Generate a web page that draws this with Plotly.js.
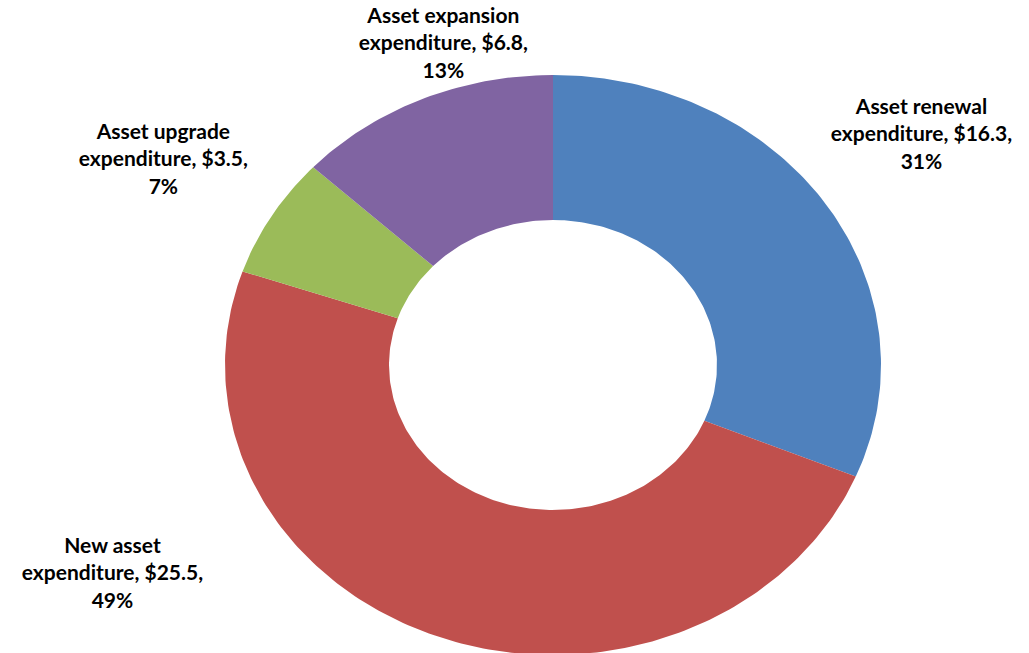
<!DOCTYPE html>
<html>
<head>
<meta charset="utf-8">
<script src="https://cdn.plot.ly/plotly-3.0.1.min.js"></script>
<style>
  html, body { margin: 0; padding: 0; background: #fff; }
  #chart { width: 1029px; height: 653px; }
</style>
</head>
<body>
<div id="chart"></div>
<script>
// Capital expenditure split ($bn), clockwise from 12 o'clock
const categories = ['Asset renewal expenditure', 'New asset expenditure', 'Asset upgrade expenditure', 'Asset expansion expenditure'];
const labelHeads = ['Asset renewal', 'New asset', 'Asset upgrade', 'Asset expansion'];
const values = [16.3, 25.5, 3.5, 6.8];
const colors = ['#4F81BD', '#C0504D', '#9BBB59', '#8064A2'];

// where each label sits on the page (pixels)
const labelPos = [[921, 133], [112, 572], [163, 158], [443, 42]];

const W = 1029, H = 653;
const cx = 553, cy = 365, rx = 328, ry = 290;
const hole = 0.5;

const total = values.reduce((a, b) => a + b, 0);

// ring slice as a closed polygon, clockwise from the top
function ringSlice(f0, f1) {
    const xs = [], ys = [];
    const n = Math.max(4, Math.ceil((f1 - f0) * 360));
    for (let k = 0; k <= n; k++) {
        const t = 2 * Math.PI * (f0 + (f1 - f0) * k / n);
        xs.push(Math.sin(t)); ys.push(Math.cos(t));
    }
    for (let k = n; k >= 0; k--) {
        const t = 2 * Math.PI * (f0 + (f1 - f0) * k / n);
        xs.push(hole * Math.sin(t)); ys.push(hole * Math.cos(t));
    }
    xs.push(xs[0]); ys.push(ys[0]);
    return { xs, ys };
}

const traces = [];
let acc = 0;
values.forEach((v, i) => {
    const f0 = acc / total;
    acc += v;
    const f1 = acc / total;
    const s = ringSlice(f0, f1);
    traces.push({
        x: s.xs, y: s.ys,
        type: 'scatter', mode: 'lines',
        fill: 'toself', fillcolor: colors[i],
        line: { width: 0, color: colors[i] },
        name: categories[i],
        hoverinfo: 'name'
    });
});

const annotations = values.map((v, i) => ({
    text: labelHeads[i] + '<br>expenditure, $' + v.toFixed(1) + ',<br>' + Math.round(v / total * 100) + '%',
    xref: 'paper', yref: 'paper',
    x: labelPos[i][0] / W, y: 1 - labelPos[i][1] / H,
    xanchor: 'center', yanchor: 'middle',
    showarrow: false, align: 'center',
    font: { family: 'Lato, "Open Sans", sans-serif', size: 21, color: '#000' }
}));

const layout = {
    width: W, height: H,
    margin: { l: 0, r: 0, t: 0, b: 0 },
    paper_bgcolor: '#fff', plot_bgcolor: '#fff',
    showlegend: false,
    xaxis: { range: [-cx / rx, (W - cx) / rx], visible: false, fixedrange: true },
    yaxis: { range: [-(H - cy) / ry, cy / ry], visible: false, fixedrange: true },
    annotations: annotations
};

Plotly.newPlot('chart', traces, layout, { displayModeBar: false, staticPlot: true });

// bold label text
document.querySelectorAll('.annotation-text').forEach(el => el.style.fontWeight = 'bold');
</script>
</body>
</html>
